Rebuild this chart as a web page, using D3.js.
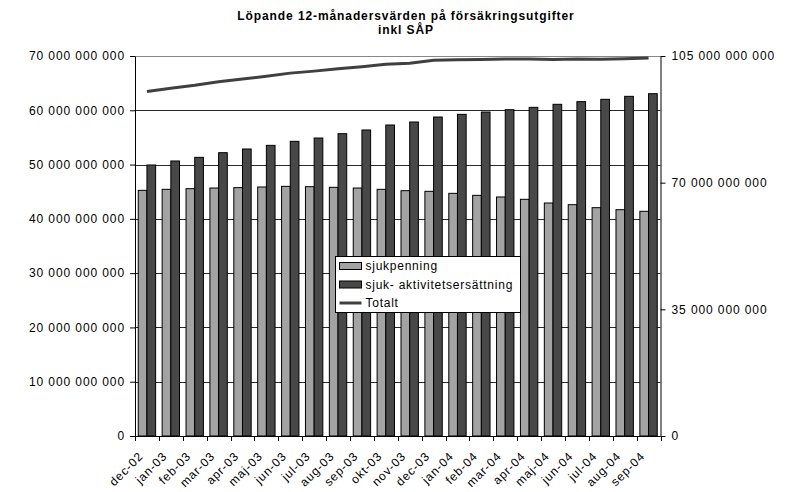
<!DOCTYPE html>
<html>
<head>
<meta charset="utf-8">
<script src="https://cdn.jsdelivr.net/npm/d3@7"></script>
<style>
  html, body { margin: 0; padding: 0; background: #fff; }
  svg { display: block; }
  text { font-family: "Liberation Sans", Arial, sans-serif; fill: #000; }
</style>
</head>
<body>
<svg id="chart" width="801" height="492"></svg>
<script>
// Månader (löpande 12-månadersvärden)
const months = ["dec-02","jan-03","feb-03","mar-03","apr-03","maj-03","jun-03","jul-03",
  "aug-03","sep-03","okt-03","nov-03","dec-03","jan-04","feb-04","mar-04","apr-04",
  "maj-04","jun-04","jul-04","aug-04","sep-04"];

// Sjukpenning, kr
const sjukpenning = [45.25e9,45.44e9,45.56e9,45.68e9,45.75e9,45.87e9,45.99e9,45.93e9,
  45.81e9,45.68e9,45.44e9,45.19e9,45.07e9,44.70e9,44.33e9,44.03e9,43.60e9,42.92e9,
  42.61e9,42.06e9,41.69e9,41.39e9];

// Sjuk- och aktivitetsersättning, kr
const aktivitet = [49.92e9,50.66e9,51.33e9,52.19e9,52.87e9,53.54e9,54.28e9,54.89e9,
  55.69e9,56.37e9,57.29e9,57.84e9,58.76e9,59.25e9,59.68e9,60.11e9,60.54e9,61.10e9,
  61.59e9,62.02e9,62.57e9,63.06e9];

// Totalt, kr (höger axel)
const totalt = [95.17e9,96.10e9,96.89e9,97.87e9,98.62e9,99.41e9,100.27e9,100.82e9,
  101.50e9,102.05e9,102.73e9,103.03e9,103.83e9,103.95e9,104.01e9,104.14e9,104.14e9,
  104.02e9,104.20e9,104.08e9,104.26e9,104.45e9];

const leftTicks = [0,10e9,20e9,30e9,40e9,50e9,60e9,70e9];
const rightTicks = [0,35e9,70e9,105e9];

const titleLines = ["Löpande 12-månadersvärden på försäkringsutgifter", "inkl SÅP"];
const seriesNames = ["sjukpenning", "sjuk- aktivitetsersättning", "Totalt"];

const colors = { grey: "#a3a3a3", dark: "#484848", line: "#404040" };
const LS = "0.9px";

const svg = d3.select("#chart");
const plot = { left: 135, right: 660.5, top: 56, bottom: 436 };

const x = d3.scaleBand().domain(months).range([plot.left, plot.right]).padding(0);
const xs = d3.scaleBand().domain(["sjuk", "akt"]).range([0, x.bandwidth()])
  .paddingInner(0).paddingOuter(0.375);
const y = d3.scaleLinear().domain([0, 70e9]).range([plot.bottom, plot.top]);
const yR = d3.scaleLinear().domain([0, 105e9]).range([plot.bottom, plot.top]);

const fmt = v => d3.format(",")(v).replace(/,/g, " ");

// Title
svg.append("g").selectAll("text").data(titleLines).join("text")
  .attr("x", 406).attr("y", (d, i) => 20 + i * 14)
  .attr("text-anchor", "middle")
  .style("font-size", "12px").style("font-weight", "bold").style("letter-spacing", LS)
  .text(d => d);

// Horizontal gridlines
svg.append("g").selectAll("line").data(leftTicks.filter(t => t > 0)).join("line")
  .attr("x1", plot.left).attr("x2", plot.right)
  .attr("y1", d => Math.round(y(d)) + 0.5).attr("y2", d => Math.round(y(d)) + 0.5)
  .attr("stroke", d => d === 70e9 ? "#888" : "#2a2a2a").attr("stroke-width", 1);

// Bars
const groups = svg.append("g").selectAll("g").data(months).join("g")
  .attr("transform", d => `translate(${x(d)},0)`);

groups.append("rect")
  .attr("x", xs("sjuk")).attr("width", xs.bandwidth())
  .attr("y", (d, i) => y(sjukpenning[i]))
  .attr("height", (d, i) => y(0) - y(sjukpenning[i]))
  .attr("fill", colors.grey).attr("stroke", "#000").attr("stroke-width", 1);

groups.append("rect")
  .attr("x", xs("akt")).attr("width", xs.bandwidth())
  .attr("y", (d, i) => y(aktivitet[i]))
  .attr("height", (d, i) => y(0) - y(aktivitet[i]))
  .attr("fill", colors.dark).attr("stroke", "#000").attr("stroke-width", 1);

// Totalt line on the secondary axis
const line = d3.line()
  .x((d, i) => x(months[i]) + x.bandwidth() / 2)
  .y(d => yR(d));
svg.append("path").datum(totalt)
  .attr("d", line).attr("fill", "none")
  .attr("stroke", colors.line).attr("stroke-width", 3);

// Left axis
const axL = svg.append("g").attr("transform", `translate(${plot.left},0)`)
  .call(d3.axisLeft(y).tickValues(leftTicks).tickSize(5).tickSizeOuter(0).tickFormat(fmt));
axL.select(".domain").attr("stroke", "#000");
axL.selectAll("text").style("font-size", "12px").style("letter-spacing", LS)
  .attr("x", -10).attr("fill", "#000");

// Right axis
const axR = svg.append("g").attr("transform", `translate(${plot.right},0)`)
  .call(d3.axisRight(yR).tickValues(rightTicks).tickSize(5).tickSizeOuter(0).tickFormat(fmt));
axR.select(".domain").attr("stroke", "#000");
axR.selectAll("text").style("font-size", "12px").style("letter-spacing", LS)
  .attr("x", 11).attr("fill", "#000");

// Bottom axis: ticks on category boundaries
const axB = svg.append("g");
axB.append("line")
  .attr("x1", plot.left).attr("x2", plot.right)
  .attr("y1", plot.bottom + 0.5).attr("y2", plot.bottom + 0.5)
  .attr("stroke", "#000");
const boundaries = months.map(m => x(m)).concat([plot.right]);
axB.selectAll("line.tick").data(boundaries).join("line").attr("class", "tick")
  .attr("x1", d => Math.round(d) + 0.5).attr("x2", d => Math.round(d) + 0.5)
  .attr("y1", plot.bottom).attr("y2", plot.bottom + 5)
  .attr("stroke", "#000");
axB.selectAll("text").data(months).join("text")
  .attr("transform", d => `translate(${x(d) + x.bandwidth() / 2 - 3},${plot.bottom + 21}) rotate(-45)`)
  .attr("text-anchor", "end")
  .style("font-size", "12px").style("letter-spacing", LS)
  .text(d => d);

// Legend
const lg = svg.append("g").attr("transform", "translate(335.5,256.5)");
lg.append("rect").attr("width", 185).attr("height", 56)
  .attr("fill", "#fff").attr("stroke", "#000");
const rows = lg.selectAll("g").data(seriesNames).join("g")
  .attr("transform", (d, i) => `translate(4,${9.5 + i * 18.5})`);
rows.filter((d, i) => i < 2).append("rect")
  .attr("x", 0).attr("y", -3.5).attr("width", 22).attr("height", 7)
  .attr("fill", (d, i) => i === 0 ? colors.grey : colors.dark)
  .attr("stroke", "#000");
rows.filter((d, i) => i === 2).append("line")
  .attr("x1", 0).attr("x2", 22).attr("y1", 0).attr("y2", 0)
  .attr("stroke", colors.line).attr("stroke-width", 3);
rows.append("text").attr("x", 26).attr("y", 0).attr("dy", "0.35em")
  .style("font-size", "12px").style("letter-spacing", "0.75px")
  .text(d => d);
</script>
</body>
</html>
